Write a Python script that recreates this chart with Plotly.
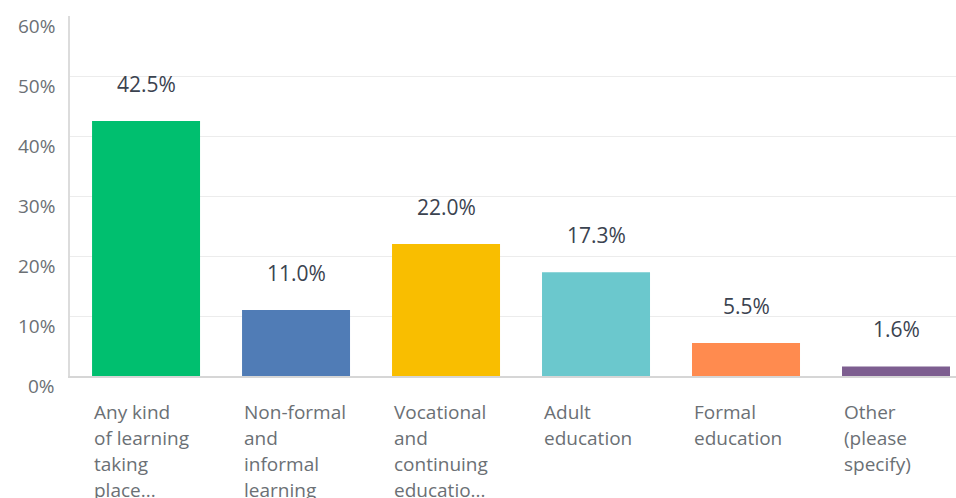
import plotly.graph_objects as go

categories = ["Any kind\nof learning\ntaking\nplace...",
              "Non-formal\nand\ninformal\nlearning",
              "Vocational\nand\ncontinuing\neducatio...",
              "Adult\neducation",
              "Formal\neducation",
              "Other\n(please\nspecify)"]
values = [42.5, 11.0, 22.0, 17.3, 5.5, 1.6]
value_labels = ["42.5%", "11.0%", "22.0%", "17.3%", "5.5%", "1.6%"]
colors = ["#00BF6F", "#507CB6", "#F9BE00", "#6BC8CD", "#FF8B4F", "#7D5E90"]
y_ticks = [0, 10, 20, 30, 40, 50, 60]
y_tick_labels = ["0%", "10%", "20%", "30%", "40%", "50%", "60%"]

FONT = "Open Sans"
x = list(range(len(values)))
bar_w = 0.72

fig = go.Figure()
fig.add_trace(go.Bar(x=x, y=values, width=bar_w, marker=dict(color=colors, line=dict(width=0)),
                     hoverinfo="skip"))

ann = []
for i, (v, t) in enumerate(zip(values, value_labels)):
    ann.append(dict(x=i, y=v, xref="x", yref="y", text=t, showarrow=False,
                    yanchor="middle", yshift=37,
                    font=dict(family=FONT, size=21, color="#3b4350")))
for i, c in enumerate(categories):
    for j, line in enumerate(c.split("\n")):
        ann.append(dict(x=i - bar_w / 2 + 0.01, y=0, xref="x", yref="paper", text=line,
                        showarrow=False, xanchor="left", yanchor="middle",
                        xshift=-2, yshift=-36 - 26 * j,
                        font=dict(family=FONT, size=19, color="#6b7075")))
for v, t in zip(y_ticks, y_tick_labels):
    ann.append(dict(x=0, y=v, xref="paper", yref="y", text=t, showarrow=False,
                    xanchor="right", yanchor="middle", xshift=-13, yshift=-10,
                    font=dict(family=FONT, size=19, color="#6b7075")))

fig.update_layout(
    width=956, height=498,
    margin=dict(l=70, r=0, t=16, b=122),
    paper_bgcolor="white", plot_bgcolor="white",
    showlegend=False,
    annotations=ann,
    xaxis=dict(range=[-0.507, 5.4], showticklabels=False, showgrid=False, zeroline=False,
               showline=True, linecolor="#d6d6d6", linewidth=2, ticks=""),
    yaxis=dict(range=[0, 60], tickvals=[10, 20, 30, 40, 50], showticklabels=False,
               showgrid=True, gridcolor="#ececec", gridwidth=1, zeroline=False,
               showline=True, linecolor="#dcdcdc", linewidth=2, ticks=""),
)

fig.write_html("out.html", config={"displayModeBar": False},
               post_script="document.body.style.margin='0';document.body.style.overflow='hidden';")
